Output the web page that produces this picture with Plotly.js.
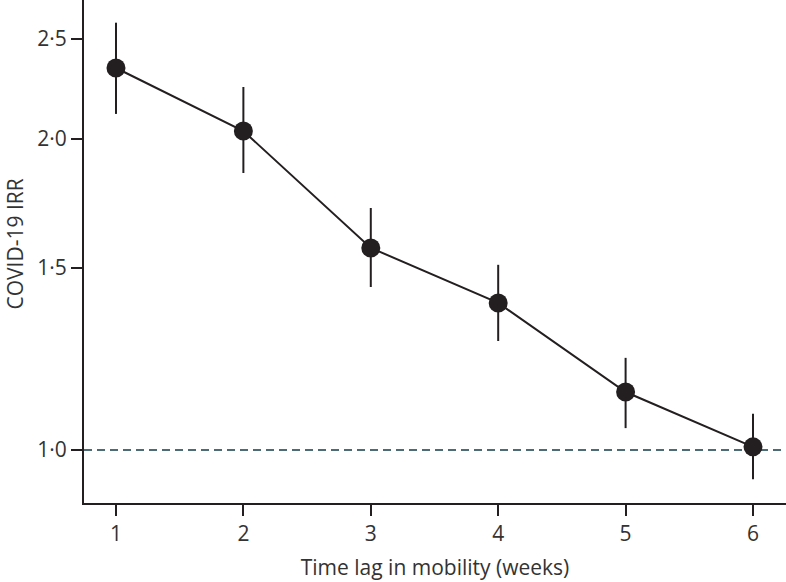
<!DOCTYPE html>
<html><head><meta charset="utf-8">
<script src="https://cdn.plot.ly/plotly-3.0.1.min.js"></script>
<style>html,body{margin:0;padding:0;background:#fff}#chart{width:786px;height:582px}</style>
</head><body><div id="chart"></div>
<script>
const weeks = [1, 2, 3, 4, 5, 6];
const irr = [2.343, 2.036, 1.569, 1.388, 1.138, 1.007];
const ciUpper = [2.592, 2.246, 1.715, 1.511, 1.228, 1.084];
const ciLower = [2.115, 1.854, 1.438, 1.275, 1.050, 0.937];
const yTickVals = [1.0, 1.5, 2.0, 2.5];
const yTickText = ['1·0', '1·5', '2·0', '2·5'];
const refValue = 1.0;
const xRange = [0.749, 6.259];
const yTitle = 'COVID-19 IRR';
const xTitle = 'Time lag in mobility (weeks)';

const dark = '#231f20';
const refLine = {
  x: xRange, y: [refValue, refValue], type: 'scatter', mode: 'lines',
  line: {color: '#4d6b75', width: 2, dash: '8px,5px'}, hoverinfo: 'skip'
};
const trace = {
  x: weeks, y: irr, type: 'scatter', mode: 'lines+markers',
  line: {color: dark, width: 2},
  marker: {color: dark, size: 19},
  error_y: {type: 'data', symmetric: false,
    array: irr.map((v, i) => ciUpper[i] - v),
    arrayminus: irr.map((v, i) => v - ciLower[i]),
    color: dark, thickness: 2, width: 0},
  cliponaxis: false,
  hoverinfo: 'skip'
};
const layout = {
  width: 786, height: 582,
  margin: {l: 84, r: 0, t: 0, b: 79},
  paper_bgcolor: '#fff', plot_bgcolor: '#fff',
  font: {family: '"Open Sans", sans-serif', color: '#333', size: 21},
  showlegend: false,
  xaxis: {
    range: xRange, tickvals: weeks, ticktext: weeks.map(String),
    showgrid: false, zeroline: false, showline: true, linecolor: dark, linewidth: 2,
    ticks: 'outside', ticklen: 11, tickwidth: 2, tickcolor: dark,
    tickfont: {size: 21, color: '#333'},
    title: {text: xTitle, font: {size: 21, color: '#333'}, standoff: 14}
  },
  yaxis: {
    type: 'log', range: [-0.0513, 0.4356],
    tickvals: yTickVals, ticktext: yTickText,
    showgrid: false, zeroline: false, showline: true, linecolor: dark, linewidth: 2,
    ticks: 'outside', ticklen: 11, tickwidth: 2, tickcolor: dark,
    tickfont: {size: 21, color: '#333'}
  },
  annotations: [{
    text: yTitle, textangle: -90, showarrow: false,
    xref: 'paper', yref: 'paper', x: 0, y: 0.5, xanchor: 'center', yanchor: 'middle',
    xshift: -70, yshift: 7, borderpad: 0, font: {size: 21, color: '#333'}
  }]
};
Plotly.newPlot('chart', [refLine, trace], layout, {displayModeBar: false, staticPlot: true});
</script></body></html>
